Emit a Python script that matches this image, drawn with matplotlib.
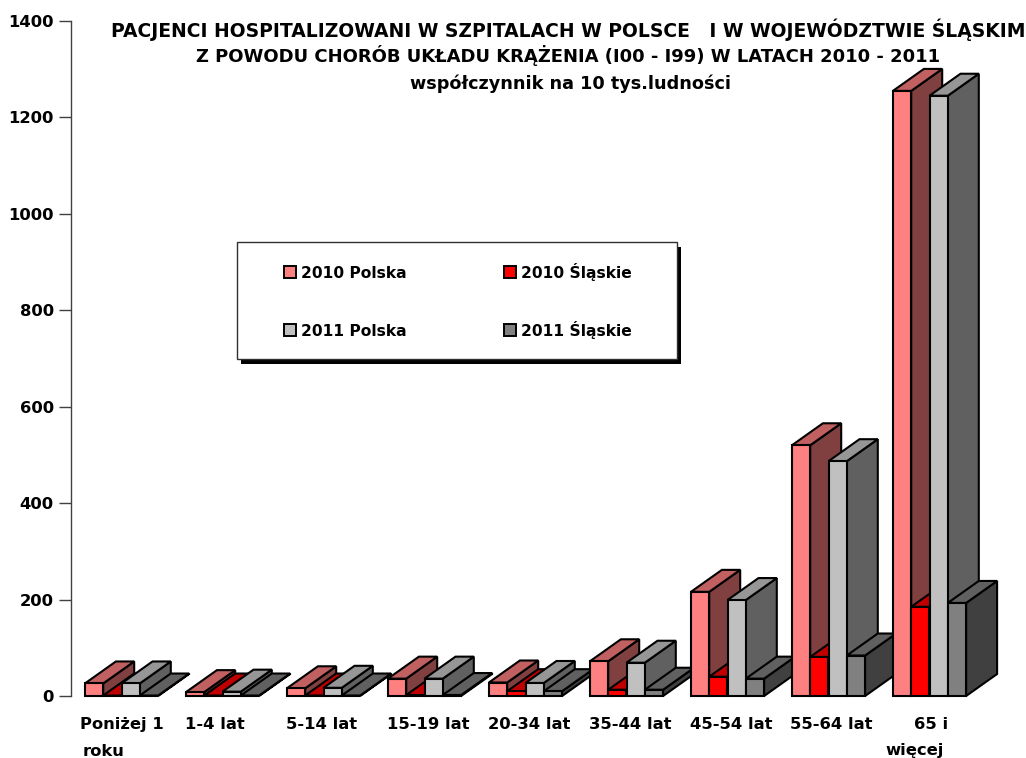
"""
Pseudo-3D clustered bars: hospitalised patients, Poland vs Silesia, 2010-2011.
"""
import matplotlib
matplotlib.use('Agg')
import matplotlib.pyplot as plt
from matplotlib.patches import Rectangle
from matplotlib.transforms import ScaledTranslation

plt.rcParams['font.family'] = ['DejaVu Sans']
plt.rcParams['font.weight'] = 'bold'

W, H = 1026, 758

categories = ['Poniżej 1', '1-4 lat', '5-14 lat', '15-19 lat', '20-34 lat',
              '35-44 lat', '45-54 lat', '55-64 lat', '65 i']
polska_2010 = [26, 8, 16, 36, 28, 72, 216, 520, 1255]
slaskie_2010 = [1, 1, 1, 2, 10, 13, 40, 81, 185]
polska_2011 = [26, 9, 17, 36, 27, 69, 199, 487, 1245]
slaskie_2011 = [1, 1, 1, 2, 10, 13, 36, 84, 193]
y_ticks = [0, 200, 400, 600, 800, 1000, 1200, 1400]

title_lines = [
    'PACJENCI HOSPITALIZOWANI W SZPITALACH W POLSCE   I W WOJEWÓDZTWIE ŚLĄSKIM',
    'Z POWODU CHORÓB UKŁADU KRĄŻENIA (I00 - I99) W LATACH 2010 - 2011',
    'współczynnik na 10 tys.ludności',
]

series = [
    ('2010 Polska', polska_2010, '#FF8080', '#C06060', '#804040'),
    ('2010 Śląskie', slaskie_2010, '#FF0000', '#C00000', '#800000'),
    ('2011 Polska', polska_2011, '#C0C0C0', '#969696', '#606060'),
    ('2011 Śląskie', slaskie_2011, '#808080', '#606060', '#404040'),
]

fig = plt.figure(figsize=(W / 100, H / 100), dpi=100)
# axes box in pixels: x 71..980, y 21..696
ax = fig.add_axes([71 / W, 1 - 696 / H, 909 / W, 675 / H])
ax.set_xlim(-0.5, 8.5)
ax.set_ylim(0, 1400)

bar_w = 18.3 / 101
depth_x = 31 / 101
depth_y = 22 * 1400 / 675
EDGE = 1.5


def draw_box(x0, value, front, top, side, z):
    """Front, top and side of one bar, in data coordinates."""
    x1 = x0 + bar_w
    ax.fill([x1, x1 + depth_x, x1 + depth_x, x1],
            [0, depth_y, value + depth_y, value],
            facecolor=side, edgecolor='black', lw=EDGE, zorder=z, clip_on=False)
    ax.fill([x0, x1, x1 + depth_x, x0 + depth_x],
            [value, value, value + depth_y, value + depth_y],
            facecolor=top, edgecolor='black', lw=EDGE, zorder=z, clip_on=False)
    ax.bar(x0, value, width=bar_w, align='edge', color=front, edgecolor='black',
           lw=EDGE, zorder=z + 0.5, clip_on=False)


# painter's order: left to right, each bar covers the previous one's side
for i in range(len(categories)):
    for j, (name, values, front, top, side) in enumerate(series):
        draw_box(i - 2 * bar_w + j * bar_w, values[i], front, top, side, 3 + i * 4 + j)

ax.set_xticks(range(len(categories)))
ax.set_xticklabels(categories, fontsize=11.8, fontweight='bold')
ax.set_yticks(y_ticks)
ax.set_yticklabels([str(v) for v in y_ticks], fontsize=11.8, fontweight='bold')
ax.tick_params(axis='x', length=0, pad=15)
ax.tick_params(axis='y', length=9, width=1, color='#404040', pad=3.5)
for name in ['top', 'right', 'bottom']:
    ax.spines[name].set_visible(False)
ax.spines['left'].set_linewidth(1)
ax.spines['left'].set_color('#404040')

# the original labels sit a few pixels off the category centres
for label, shift in zip(ax.get_xticklabels(), [0, -8, -2, 4, 4, 4, 4, 3, 2]):
    label.set_transform(label.get_transform() + ScaledTranslation(shift / 100, 0, fig.dpi_scale_trans))

# second lines of the wrapped labels
fig.text(104 / W, 1 - 751 / H, 'roku', fontsize=11.8, ha='center', va='center')
fig.text(915 / W, 1 - 751 / H, 'więcej', fontsize=11.8, ha='center', va='center')

for line, cx, cy, size in zip(title_lines, [568, 568, 571], [30, 55, 84], [13.5, 13, 12.7]):
    fig.text(cx / W, 1 - cy / H, line, fontsize=size, ha='center', va='center')

# legend box with a hard black shadow
fig.add_artist(Rectangle((241 / W, 1 - 364 / H), 440 / W, 117 / H, transform=fig.transFigure,
                         facecolor='black', edgecolor='black', lw=0))
fig.add_artist(Rectangle((237 / W, 1 - 359 / H), 440 / W, 117 / H, transform=fig.transFigure,
                         facecolor='white', edgecolor='#303030', lw=1))
# swatches and labels placed by hand so both columns share their rows
for s, sx, sy in zip(series, [284, 504, 284, 504], [272, 272, 330, 330]):
    fig.add_artist(Rectangle((sx / W, 1 - (sy + 6) / H), 12 / W, 12 / H, transform=fig.transFigure,
                             facecolor=s[2], edgecolor='black', lw=1.4))
    fig.text((sx + 17) / W, 1 - (sy + 6) / H, s[0], fontsize=11.2, ha='left', va='baseline')

fig.savefig('out.png', dpi=100)
